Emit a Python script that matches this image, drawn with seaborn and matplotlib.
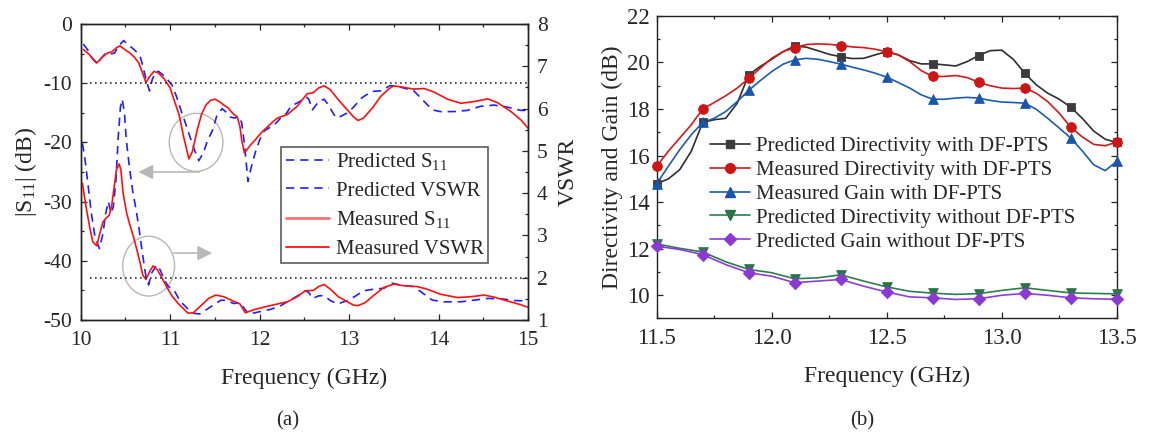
import matplotlib
matplotlib.use("Agg")
import matplotlib.pyplot as plt
import seaborn as sns
from matplotlib.patches import Ellipse
from matplotlib.lines import Line2D
from matplotlib.ticker import MultipleLocator, FormatStrFormatter

# ---------------- Panel (a) data ----------------
pred_s11_f = [10.03, 10.08, 10.12, 10.19, 10.22, 10.27, 10.33, 10.38, 10.42, 10.48, 10.53, 10.58, 10.63, 10.67,
              10.70, 10.74, 10.77, 10.80, 10.84, 10.87, 10.92, 10.97, 11.02, 11.07, 11.12, 11.17, 11.22, 11.27,
              11.32, 11.37, 11.42, 11.47, 11.52, 11.58, 11.62, 11.67, 11.72, 11.77, 11.80, 11.83, 11.87, 11.90,
              11.95, 12.00, 12.05, 12.10, 12.15, 12.20, 12.25, 12.30, 12.35, 12.40, 12.45, 12.52, 12.55, 12.59,
              12.66, 12.72, 12.77, 12.83, 12.87, 12.97, 13.04, 13.14, 13.25, 13.35, 13.46, 13.58, 13.72, 13.84,
              13.93, 14.02, 14.17, 14.32, 14.47, 14.62, 14.77, 14.92, 15.00]
pred_s11 = [-3.4, -4.4, -5.6, -6.7, -5.95, -5.1, -5.1, -4.9, -3.8, -2.8, -3.5, -4.1, -4.8, -5.7,
            -7.4, -9.9, -11.3, -9.4, -8.1, -8.0, -8.6, -9.4, -10.3, -12.2, -14.5, -16.7, -19.0, -21.2,
            -23.1, -21.8, -19.6, -18.1, -15.6, -14.3, -14.8, -15.7, -15.9, -15.6, -16.7, -20.2, -26.6, -24.6,
            -21.8, -19.6, -18.1, -17.6, -17.2, -16.5, -15.6, -15.1, -13.9, -13.5, -13.1, -12.3, -12.7, -14.5,
            -13.1, -12.7, -13.7, -15.3, -15.9, -15.1, -14.2, -12.5, -11.4, -11.3, -10.4, -10.7, -11.25, -13.1,
            -14.5, -14.8, -14.8, -14.6, -13.9, -13.7, -14.05, -14.6, -14.6]

meas_s11_f = [10.03, 10.10, 10.15, 10.18, 10.25, 10.30, 10.35, 10.40, 10.44, 10.50, 10.55, 10.60, 10.65, 10.70,
              10.73, 10.77, 10.82, 10.87, 10.93, 11.00, 11.05, 11.10, 11.15, 11.21, 11.25, 11.30, 11.35, 11.40,
              11.45, 11.50, 11.55, 11.60, 11.65, 11.70, 11.75, 11.78, 11.80, 11.83, 11.90, 11.95, 12.00, 12.05,
              12.10, 12.15, 12.20, 12.25, 12.31, 12.42, 12.53, 12.60, 12.66, 12.72, 12.79, 12.88, 12.98, 13.05,
              13.10, 13.16, 13.26, 13.35, 13.44, 13.50, 13.61, 13.72, 13.84, 13.95, 14.10, 14.25, 14.40, 14.55,
              14.66, 14.81, 14.92, 15.00]
meas_s11 = [-4.3, -5.2, -6.2, -6.6, -5.5, -4.9, -4.7, -4.0, -3.7, -4.4, -4.9, -5.6, -6.6, -8.6,
            -9.9, -8.9, -8.0, -8.3, -9.2, -10.8, -13.1, -15.3, -19.0, -22.8, -21.5, -18.1, -15.3, -13.7,
            -12.9, -12.7, -13.1, -13.7, -14.2, -15.1, -15.7, -17.3, -19.6, -21.8, -20.4, -19.6, -18.7, -17.9,
            -17.2, -16.5, -15.9, -15.6, -15.3, -13.9, -11.8, -11.6, -10.8, -10.45, -11.1, -12.8, -14.5, -15.7,
            -16.3, -15.9, -14.2, -12.3, -11.0, -10.45, -10.7, -11.0, -10.9, -11.5, -12.7, -13.4, -13.1, -12.65,
            -13.3, -14.8, -16.2, -17.6]

pred_vswr_f = [10.02, 10.05, 10.085, 10.12, 10.16, 10.21, 10.25, 10.28, 10.31, 10.34, 10.365, 10.395, 10.42,
               10.445, 10.465, 10.49, 10.51, 10.545, 10.58, 10.62, 10.655, 10.69, 10.73, 10.76, 10.79, 10.85,
               10.89, 10.935, 10.98, 11.04, 11.11, 11.19, 11.26, 11.33, 11.41, 11.48, 11.57, 11.63, 11.71,
               11.78, 11.84, 11.88, 12.01, 12.12, 12.23, 12.34, 12.44, 12.51, 12.55, 12.59, 12.66, 12.72,
               12.79, 12.87, 12.97, 13.06, 13.16, 13.28, 13.39, 13.48, 13.61, 13.72, 13.84, 13.93, 14.06,
               14.25, 14.40, 14.55, 14.70, 14.85, 15.00]
pred_vswr = [5.18, 4.78, 4.15, 3.52, 2.97, 2.69, 3.05, 3.52, 3.80, 3.52, 3.68, 4.31, 5.33,
             6.04, 6.22, 5.89, 5.26, 4.62, 4.07, 3.60, 3.13, 2.58, 2.02, 1.83, 2.10, 2.30,
             2.18, 1.95, 1.79, 1.72, 1.45, 1.28, 1.16, 1.14, 1.25, 1.35, 1.47, 1.46, 1.39,
             1.41, 1.24, 1.14, 1.20, 1.25, 1.33, 1.47, 1.59, 1.69, 1.65, 1.51, 1.57, 1.58,
             1.46, 1.38, 1.45, 1.55, 1.69, 1.73, 1.75, 1.87, 1.81, 1.79, 1.61, 1.47, 1.43,
             1.43, 1.47, 1.51, 1.50, 1.46, 1.45]

meas_vswr_f = [10.02, 10.06, 10.10, 10.135, 10.18, 10.21, 10.25, 10.28, 10.32, 10.345, 10.37, 10.40, 10.43,
               10.45, 10.475, 10.515, 10.55, 10.59, 10.63, 10.665, 10.695, 10.73, 10.77, 10.81, 10.86,
               10.905, 10.96, 11.02, 11.09, 11.20, 11.26, 11.34, 11.43, 11.51, 11.60, 11.69, 11.78, 11.84,
               11.93, 12.04, 12.16, 12.31, 12.42, 12.51, 12.60, 12.66, 12.72, 12.79, 12.88, 12.98, 13.05,
               13.10, 13.18, 13.28, 13.39, 13.50, 13.61, 13.76, 13.87, 14.02, 14.21, 14.36, 14.51, 14.62,
               14.77, 14.92, 15.00]
meas_vswr = [4.23, 3.68, 3.21, 2.85, 2.75, 3.01, 3.32, 3.40, 3.48, 3.68, 4.07, 4.55, 4.69,
             4.55, 3.99, 3.52, 3.25, 2.97, 2.65, 2.34, 2.06, 1.96, 2.14, 2.28, 2.18,
             2.01, 1.79, 1.57, 1.39, 1.16, 1.17, 1.33, 1.51, 1.59, 1.55, 1.46, 1.38, 1.17,
             1.24, 1.30, 1.36, 1.43, 1.55, 1.69, 1.70, 1.79, 1.84, 1.73, 1.55, 1.43, 1.35,
             1.34, 1.41, 1.59, 1.77, 1.85, 1.81, 1.79, 1.73, 1.61, 1.53, 1.55, 1.59, 1.54,
             1.45, 1.36, 1.30]

s11_threshold = -10
vswr_threshold = 2
threshold_span = [10.1, 15.0]
legend_a = ["Predicted S$_{11}$", "Predicted VSWR", "Measured S$_{11}$", "Measured VSWR"]

# ---------------- Panel (b) data ----------------
freq_fine = [11.50, 11.55, 11.60, 11.65, 11.70, 11.75, 11.80, 11.85, 11.90, 11.95, 12.00, 12.05, 12.10, 12.15,
             12.20, 12.25, 12.30, 12.35, 12.40, 12.45, 12.50, 12.55, 12.60, 12.65, 12.70, 12.75, 12.80, 12.85,
             12.90, 12.95, 13.00, 13.05, 13.10, 13.15, 13.20, 13.25, 13.30, 13.35, 13.40, 13.45, 13.50]
pred_dir_with = [14.79, 14.99, 15.39, 16.18, 17.42, 17.54, 17.60, 18.25, 19.47, 19.83, 20.14, 20.47, 20.71, 20.66,
                 20.51, 20.35, 20.25, 20.17, 20.18, 20.33, 20.47, 20.33, 20.08, 19.94, 19.94, 19.90, 19.85, 20.04,
                 20.30, 20.51, 20.53, 20.14, 19.54, 19.04, 18.68, 18.42, 18.08, 17.60, 17.05, 16.70, 16.56]
meas_dir_with = [15.53, 16.18, 16.75, 17.32, 18.00, 18.28, 18.57, 18.90, 19.32, 19.75, 20.18, 20.47, 20.64, 20.77,
                 20.80, 20.78, 20.73, 20.67, 20.64, 20.57, 20.46, 20.33, 20.04, 19.65, 19.40, 19.40, 19.44, 19.35,
                 19.15, 19.00, 18.90, 18.88, 18.90, 18.68, 18.32, 17.82, 17.22, 16.80, 16.48, 16.42, 16.58]
meas_gain_with = [14.79, 15.53, 16.25, 16.89, 17.42, 17.60, 17.89, 18.32, 18.80, 19.22, 19.61, 19.93, 20.11, 20.18,
                  20.14, 20.04, 19.93, 19.80, 19.68, 19.54, 19.37, 19.14, 18.90, 18.61, 18.42, 18.42, 18.47, 18.50,
                  18.47, 18.37, 18.30, 18.28, 18.25, 17.99, 17.60, 17.18, 16.75, 16.20, 15.60, 15.35, 15.75]
freq_coarse = [11.5, 11.6, 11.7, 11.8, 11.9, 12.0, 12.1, 12.2, 12.3, 12.4, 12.5, 12.6, 12.7, 12.8, 12.9, 13.0,
               13.1, 13.2, 13.3, 13.4, 13.5]
pred_dir_without = [12.20, 12.01, 11.85, 11.43, 11.10, 10.96, 10.70, 10.74, 10.87, 10.60, 10.35, 10.16, 10.08,
                    10.03, 10.06, 10.20, 10.31, 10.20, 10.09, 10.07, 10.05]
pred_gain_without = [12.10, 11.96, 11.74, 11.31, 10.96, 10.81, 10.53, 10.60, 10.67, 10.38, 10.13, 9.92, 9.88,
                     9.81, 9.84, 9.99, 10.07, 9.99, 9.88, 9.84, 9.82]
legend_b = ["Predicted Directivity with DF-PTS", "Measured Directivity with DF-PTS",
            "Measured Gain with DF-PTS", "Predicted Directivity without DF-PTS",
            "Predicted Gain without DF-PTS"]

# ---------------- style ----------------
sns.set_style("ticks")
plt.rcParams.update({
    "font.family": ["Liberation Serif", "DejaVu Serif"],
    "mathtext.fontset": "custom",
    "mathtext.rm": "Liberation Serif",
    "mathtext.it": "Liberation Serif:italic",
    "axes.unicode_minus": False,
    "xtick.direction": "in", "ytick.direction": "in",
    "xtick.major.size": 4, "ytick.major.size": 4,
    "xtick.minor.size": 2.5, "ytick.minor.size": 2.5,
    "xtick.major.width": 0.9, "ytick.major.width": 0.9,
    "xtick.minor.width": 0.9, "ytick.minor.width": 0.9,
    "xtick.major.pad": 8, "ytick.major.pad": 6.5,
    "axes.linewidth": 1.0,
    "axes.edgecolor": "#222222",
})
TICK_FS_A = 15.5
TICK_FS_B = 16.5
LABEL_FS = 17
LEG_FS = 15

fig = plt.figure(figsize=(11.57, 4.32), dpi=100)
axA = fig.add_axes([0.0697, 0.2593, 0.3867, 0.6852])
axB = fig.add_axes([0.5676, 0.2632, 0.3976, 0.6998])

BLUE = "#1f1fff"
RED = "#ff1010"
dash = (0, (5, 3.5))
dots = (0, (1, 2))

# ---------------- Panel (a) ----------------
sns.lineplot(x=pred_s11_f, y=pred_s11, ax=axA, color=BLUE, lw=1.2, linestyle=dash, estimator=None, sort=False)
sns.lineplot(x=meas_s11_f, y=meas_s11, ax=axA, color=RED, lw=1.2, estimator=None, sort=False)
axA.hlines(s11_threshold, threshold_span[0], threshold_span[1], colors="#333333", lw=1.2, linestyles=dots)
axA.set_xlim(10, 15)
axA.set_ylim(-50, 0)
axA.xaxis.set_major_locator(MultipleLocator(1))
axA.xaxis.set_minor_locator(MultipleLocator(0.5))
axA.yaxis.set_major_locator(MultipleLocator(10))
axA.yaxis.set_minor_locator(MultipleLocator(5))
axA.tick_params(which="both", top=True, right=False, labelsize=TICK_FS_A)
axA.set_xlabel("Frequency (GHz)", fontsize=LABEL_FS, labelpad=13)
axA.set_ylabel("|S$_{11}$| (dB)", fontsize=LABEL_FS, labelpad=3)

# annotations
gray = "#b8b8b8"
axA.add_patch(Ellipse((11.29, -20.0), 0.60, 9.8, fill=False, ec=gray, lw=1.0))
axA.add_patch(Ellipse((10.76, -40.9), 0.58, 10.1, fill=False, ec=gray, lw=1.0))
axA.annotate("", xy=(10.645, -25.0), xytext=(11.33, -25.0),
             arrowprops=dict(arrowstyle="-|>", color=gray, lw=1.2, mutation_scale=22, shrinkA=0, shrinkB=0))
axA.annotate("", xy=(11.47, -38.7), xytext=(11.04, -38.7),
             arrowprops=dict(arrowstyle="-|>", color=gray, lw=1.2, mutation_scale=22, shrinkA=0, shrinkB=0))

axA2 = axA.twinx()
sns.lineplot(x=pred_vswr_f, y=pred_vswr, ax=axA2, color=BLUE, lw=1.2, linestyle=dash, estimator=None, sort=False)
sns.lineplot(x=meas_vswr_f, y=meas_vswr, ax=axA2, color=RED, lw=1.2, estimator=None, sort=False)
axA2.hlines(vswr_threshold, threshold_span[0], threshold_span[1], colors="#333333", lw=1.2, linestyles=dots)
axA2.set_ylim(1, 8)
axA2.yaxis.set_major_locator(MultipleLocator(1))
axA2.yaxis.set_minor_locator(MultipleLocator(0.5))
axA2.tick_params(which="both", direction="in", labelsize=TICK_FS_A)
axA2.set_ylabel("VSWR", fontsize=LABEL_FS, labelpad=7)
axA2.set_xlim(10, 15)

handles_a = [Line2D([0], [0], color=BLUE, lw=1.2, linestyle=dash),
             Line2D([0], [0], color=BLUE, lw=1.2, linestyle=dash),
             Line2D([0], [0], color="#ff7070", lw=2.0),
             Line2D([0], [0], color=RED, lw=1.3)]
legA = axA2.legend(handles_a, legend_a, loc="upper left", bbox_to_anchor=(0.448, 0.585),
                   fontsize=LEG_FS, frameon=True, fancybox=False, edgecolor="#333333",
                   handlelength=2.1, handletextpad=0.3, labelspacing=0.42, borderpad=0.22,
                   borderaxespad=0.0)
legA.get_frame().set_linewidth(1.2)

# ---------------- Panel (b) ----------------
series_b = [
    (freq_fine, pred_dir_with, 4, "#2e2e2e", "#3c3c3c", "s", 6.0),
    (freq_fine, meas_dir_with, 4, "#d21a1a", "#cc1515", "o", 7.0),
    (freq_fine, meas_gain_with, 4, "#1b5cb0", "#1a55a8", "^", 7.0),
    (freq_coarse, pred_dir_without, 2, "#2e7d4f", "#2a7548", "v", 7.0),
    (freq_coarse, pred_gain_without, 2, "#8c3fd6", "#8a3ad0", "D", 6.3),
]
handles_b = []
for xs, ys, step, lc, mc, mk, ms in series_b:
    sns.lineplot(x=xs, y=ys, ax=axB, color=lc, lw=1.2, estimator=None, sort=False)
    sns.scatterplot(x=xs[::step], y=ys[::step], ax=axB, color=mc, marker=mk, s=ms ** 2,
                    edgecolor=mc, linewidth=0.6, zorder=5, clip_on=False)
    handles_b.append(Line2D([0], [0], color=lc, lw=1.2, marker=mk, markersize=ms,
                            markerfacecolor=mc, markeredgecolor=mc))

axB.set_xlim(11.5, 13.5)
axB.set_ylim(9, 22)
axB.xaxis.set_major_locator(MultipleLocator(0.5))
axB.xaxis.set_minor_locator(MultipleLocator(0.25))
axB.yaxis.set_major_locator(MultipleLocator(2))
axB.yaxis.set_minor_locator(MultipleLocator(1))
axB.xaxis.set_major_formatter(FormatStrFormatter("%.1f"))
axB.tick_params(which="both", top=True, right=True, labelsize=TICK_FS_B)
axB.tick_params(axis="y", pad=5)
axB.tick_params(axis="x", pad=7)
axB.set_xlabel("Frequency (GHz)", fontsize=LABEL_FS, labelpad=12)
axB.set_ylabel("Directivity and Gain (dB)", fontsize=LABEL_FS, labelpad=3)
axB.legend(handles_b, legend_b, loc="upper left", bbox_to_anchor=(0.116, 0.602), fontsize=LEG_FS,
           frameon=False, handlelength=1.9, handletextpad=0.3, labelspacing=0.21, borderpad=0.0,
           borderaxespad=0.0)

fig.text(0.249, 0.025, "(a)", fontsize=LEG_FS, ha="center", va="center")
fig.text(0.745, 0.025, "(b)", fontsize=LEG_FS, ha="center", va="center")

fig.savefig("out.png", dpi=100)
